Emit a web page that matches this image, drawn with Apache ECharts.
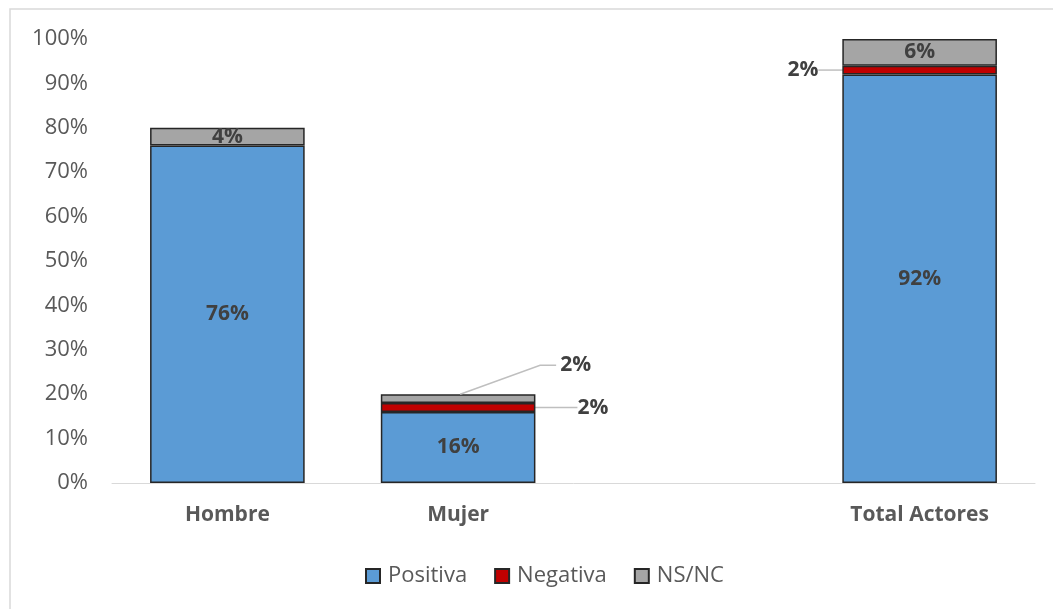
<!DOCTYPE html>
<html>
<head>
<meta charset="utf-8">
<script src="https://cdn.jsdelivr.net/npm/echarts@6/dist/echarts.min.js"></script>
<style>
  html, body { margin: 0; padding: 0; background: #ffffff; }
  #chart { width: 1053px; height: 609px; }
</style>
</head>
<body>
<div id="chart"></div>
<script>
// Actitud por sexo (porcentajes); la categoría vacía deja el hueco antes del total
const categories = ['Hombre', 'Mujer', '', 'Total Actores'];
const positiva = [76, 16, null, 92];
const negativa = [null, 2, null, 2];
const nsnc = [4, 2, null, 6];
const yTicks = [0, 10, 20, 30, 40, 50, 60, 70, 80, 90, 100];

const FONT = '"Open Sans", "Noto Sans", sans-serif';
const BORDER = '#262626';
const LABEL_COLOR = '#404040';
const GUIDE_COLOR = '#bfbfbf';

// Desplazamiento de la etiqueta NS/NC de Mujer respecto a la cima de su barra
const CALLOUT = { dx: 82, dy: -29, tail: 16, gap: 4 };

const baseLabel = {
  show: true,
  fontFamily: FONT,
  fontSize: 21,
  fontWeight: 'bold',
  color: LABEL_COLOR,
  formatter: p => (p.value ? p.value + '%' : '')
};

// Etiquetas de Negativa fuera de la barra, con línea guía horizontal
function negativaLayout(p) {
  const r = p.rect;
  const cy = r.y + r.height / 2;
  if (p.dataIndex === 1) {
    return { x: r.x + r.width + 42, y: cy, align: 'left', verticalAlign: 'middle' };
  }
  if (p.dataIndex === 3) {
    return { x: r.x - 24, y: cy, align: 'right', verticalAlign: 'middle' };
  }
  return {};
}

function nsncLayout(p) {
  const r = p.rect;
  if (p.dataIndex === 1) {
    return {
      x: r.x + r.width / 2 + CALLOUT.dx + CALLOUT.tail + CALLOUT.gap,
      y: r.y + CALLOUT.dy,
      align: 'left',
      verticalAlign: 'middle'
    };
  }
  return {};
}

// Cima de la barra de Mujer, para la línea guía quebrada
const mujerTop = positiva[1] + negativa[1] + nsnc[1];

const chart = echarts.init(document.getElementById('chart'), null, { renderer: 'canvas' });

chart.setOption({
  animation: false,
  backgroundColor: '#ffffff',
  textStyle: { fontFamily: FONT },
  graphic: [{
    type: 'rect',
    silent: true,
    shape: { x: 10, y: 9, width: 1200, height: 800 },
    style: { fill: 'none', stroke: '#d9d9d9', lineWidth: 1.5 }
  }],
  grid: { left: 112, right: 18, top: 39, bottom: 126, containLabel: false },
  xAxis: {
    type: 'category',
    data: categories,
    axisLine: { show: true, lineStyle: { color: '#d9d9d9', width: 1 } },
    axisTick: { show: false },
    axisLabel: {
      margin: 22,
      fontFamily: FONT,
      fontSize: 21,
      fontWeight: 'bold',
      color: '#595959'
    }
  },
  yAxis: {
    type: 'value',
    min: yTicks[0],
    max: yTicks[yTicks.length - 1],
    interval: 10,
    splitLine: { show: false },
    axisLine: { show: false },
    axisTick: { show: false },
    axisLabel: {
      margin: 24,
      fontFamily: FONT,
      fontSize: 22,
      color: '#595959',
      formatter: v => v + '%'
    }
  },
  legend: {
    top: 560,
    left: 360,
    icon: 'rect',
    itemWidth: 14,
    itemHeight: 14,
    itemGap: 27,
    textStyle: { fontFamily: FONT, fontSize: 22, color: '#595959', padding: [0, 0, 0, 3] },
    data: ['Positiva', 'Negativa', 'NS/NC']
  },
  series: [
    {
      name: 'Positiva',
      type: 'bar',
      stack: 'total',
      barWidth: '67%',
      data: positiva,
      itemStyle: { color: '#5B9BD5', borderColor: BORDER, borderWidth: 1.5 },
      label: Object.assign({}, baseLabel, { position: 'inside' })
    },
    {
      name: 'Negativa',
      type: 'bar',
      stack: 'total',
      data: negativa,
      itemStyle: { color: '#C00000', borderColor: BORDER, borderWidth: 1.5 },
      label: Object.assign({}, baseLabel, { position: 'right' }),
      labelLine: { show: true, lineStyle: { color: GUIDE_COLOR, width: 1.5 } },
      labelLayout: negativaLayout
    },
    {
      name: 'NS/NC',
      type: 'bar',
      stack: 'total',
      data: nsnc,
      itemStyle: { color: '#A5A5A5', borderColor: BORDER, borderWidth: 1.5 },
      label: Object.assign({}, baseLabel, { position: 'inside' }),
      labelLayout: nsncLayout
    },
    {
      // Línea guía de la etiqueta NS/NC de Mujer, desde el centro de la cima
      name: 'guia',
      type: 'custom',
      silent: true,
      z: 3,
      data: [[1, mujerTop]],
      renderItem: (params, api) => {
        const top = api.coord([api.value(0), api.value(1)]);
        const bend = [top[0] + CALLOUT.dx, top[1] + CALLOUT.dy];
        const end = [bend[0] + CALLOUT.tail, bend[1]];
        return {
          type: 'polyline',
          shape: { points: [[top[0] + 2, top[1]], bend, end] },
          style: { stroke: GUIDE_COLOR, lineWidth: 1.5, fill: null }
        };
      }
    }
  ]
});
</script>
</body>
</html>
